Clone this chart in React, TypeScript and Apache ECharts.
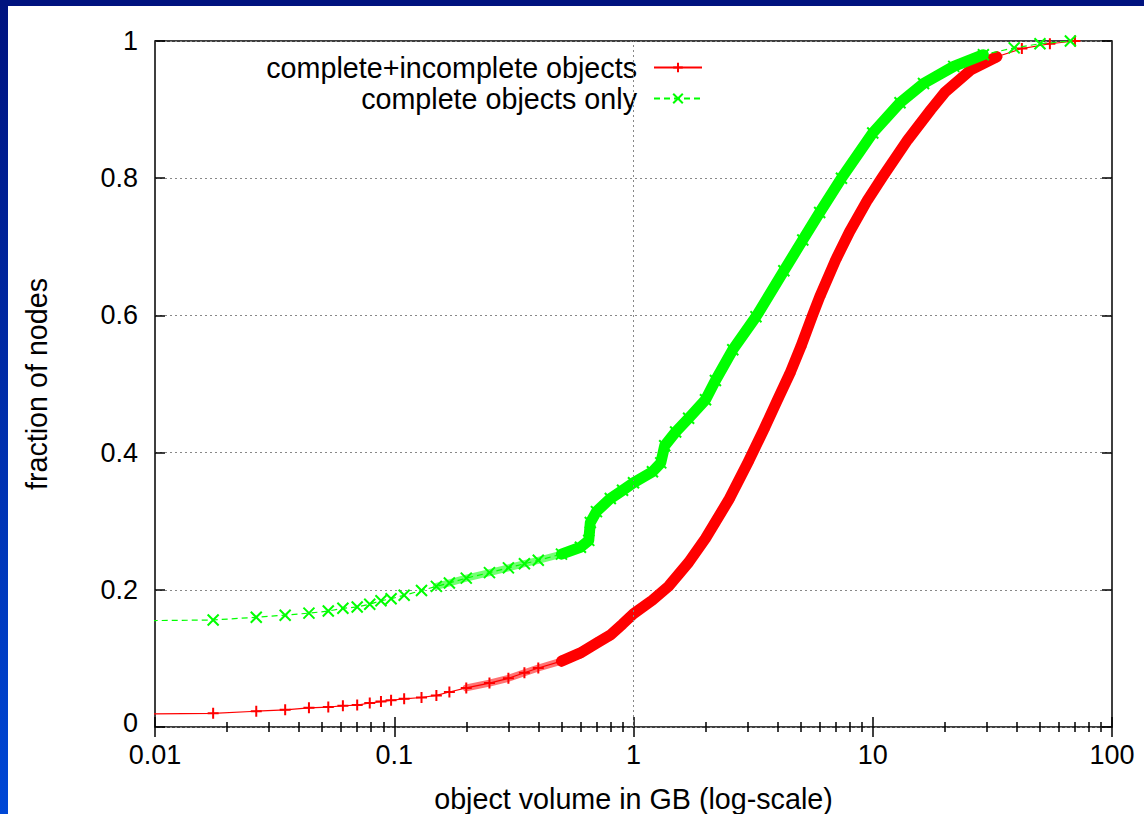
import React, { useEffect, useRef } from 'react';
import * as echarts from 'echarts';

// ---- data ----
const seriesNames = ['complete+incomplete objects', 'complete objects only'];
const xTickLabels = ['0.01', '0.1', '1', '10', '100'];
const yTickLabels = ['0', '0.2', '0.4', '0.6', '0.8', '1'];
const xAxisTitle = 'object volume in GB (log-scale)';
const yAxisTitle = 'fraction of nodes';

// complete+incomplete objects (red)
const allVolumeGB = [
  0.0088, 0.0175, 0.0265, 0.035, 0.044, 0.053, 0.061, 0.07, 0.079, 0.088, 0.097,
  0.11, 0.13, 0.15, 0.17, 0.2, 0.25, 0.3, 0.35, 0.4, 0.5, 0.6, 0.7, 0.8, 0.9,
  1.0, 1.2, 1.4, 1.7, 2.0, 2.5, 3.0, 3.5, 4.0, 4.5, 5.0, 5.6, 6.0, 7.0, 8.0,
  9.5, 11, 14, 17.5, 20, 25.7, 33, 42, 55, 70,
];
const allFraction = [
  0.019, 0.02, 0.023, 0.025, 0.028, 0.029, 0.031, 0.032, 0.035, 0.037, 0.039,
  0.041, 0.043, 0.046, 0.051, 0.057, 0.064, 0.071, 0.079, 0.086, 0.096, 0.108, 0.122, 0.134, 0.15,
  0.165, 0.185, 0.205, 0.24, 0.275, 0.331, 0.385, 0.433, 0.477, 0.515, 0.554, 0.6, 0.627, 0.681, 0.722,
  0.768, 0.802, 0.856, 0.9, 0.925, 0.958, 0.977, 0.989, 0.996, 1.0,
];

// complete objects only (green)
const completeVolumeGB = [
  0.0088, 0.0175, 0.0265, 0.035, 0.044, 0.053, 0.061, 0.07, 0.079, 0.088, 0.097,
  0.11, 0.13, 0.15, 0.17, 0.2, 0.25, 0.3, 0.35, 0.4, 0.5, 0.6, 0.65, 0.66, 0.7,
  0.8, 0.9, 1.0, 1.2, 1.3, 1.35, 1.5, 1.7, 2.0, 2.2, 2.6, 3.25, 4.25, 5.1, 6.0,
  7.4, 10.0, 13.0, 16.3, 21.8, 29, 39, 50, 67,
];
const completeFraction = [
  0.155, 0.156, 0.16, 0.163, 0.166, 0.169, 0.173, 0.175, 0.179, 0.184, 0.187,
  0.192, 0.199, 0.205, 0.21, 0.217, 0.225, 0.232, 0.238, 0.243, 0.252, 0.262, 0.272, 0.298, 0.314,
  0.333, 0.345, 0.356, 0.372, 0.385, 0.41, 0.43, 0.45, 0.477, 0.505, 0.55, 0.598, 0.665, 0.71, 0.75,
  0.8, 0.866, 0.91, 0.938, 0.963, 0.98, 0.99, 0.996, 1.0,
];

const RED = '#ff0000';
const GREEN = '#00ff00';
const FONT = 'Liberation Sans, Arial, Helvetica, sans-serif';
const PLUS = 'path://M5,0L5,10M0,5L10,5';
const CROSS = 'path://M0,0L10,10M0,10L10,0';

const pairs = (xs: number[], ys: number[]) => xs.map((x, i) => [x, ys[i]]);
const rangeOf = (xs: number[], ys: number[], lo: number, hi: number) =>
  pairs(xs, ys).filter((p) => p[0] >= lo && p[0] <= hi);

export default function App() {
  const ref = useRef<HTMLDivElement>(null);

  useEffect(() => {
    if (!ref.current) return;
    const chart = echarts.init(ref.current, undefined, { renderer: 'svg' });

    const tickLine = { show: true, inside: true, length: 10, lineStyle: { color: '#000', width: 1.5 } };
    const minorTick = { show: true, splitNumber: 9, length: 5, lineStyle: { color: '#000', width: 1.5 } };
    const gridLine = { color: '#888', width: 1, type: [2, 3] as number[] };

    const xBase = {
      type: 'log' as const,
      logBase: 10,
      min: 0.01,
      max: 100,
      axisLine: { show: false },
      axisTick: tickLine,
      minorTick,
      splitLine: { show: false },
    };
    const yBase = {
      type: 'value' as const,
      min: 0,
      max: 1,
      interval: 0.2,
      axisLine: { show: false },
      axisTick: tickLine,
    };
    const legendText = { fontSize: 28.7, color: '#000', fontFamily: FONT, padding: [0, 12, 0, 0] };

    chart.setOption({
      animation: false,
      backgroundColor: '#ffffff',
      textStyle: { fontFamily: FONT },
      graphic: [
        {
          type: 'rect',
          left: 0,
          top: 0,
          shape: { width: 8, height: 814 },
          style: {
            fill: new echarts.graphic.LinearGradient(0, 0, 0, 1, [
              { offset: 0, color: '#00137f' },
              { offset: 1, color: '#0048d6' },
            ]),
          },
          silent: true,
        },
        {
          type: 'rect',
          left: 0,
          top: 0,
          shape: { width: 1144, height: 6 },
          style: { fill: '#00137f' },
          silent: true,
        },
      ],
      grid: {
        left: 155,
        right: 32,
        top: 41,
        bottom: 87,
        show: true,
        borderColor: '#000',
        borderWidth: 1.5,
        backgroundColor: 'transparent',
        containLabel: false,
        outerBoundsMode: 'none',
      },
      legend: [
        {
          data: [seriesNames[0]],
          right: 441,
          top: 53,
          padding: 0,
          align: 'right',
          itemWidth: 48,
          itemHeight: 12,
          selectedMode: false,
          textStyle: legendText,
        },
        {
          data: [seriesNames[1]],
          right: 441,
          top: 84,
          padding: 0,
          align: 'right',
          itemWidth: 48,
          itemHeight: 12,
          selectedMode: false,
          textStyle: legendText,
        },
      ],
      xAxis: [
        {
          ...xBase,
          position: 'bottom',
          axisLabel: {
            color: '#000',
            fontSize: 27,
            fontFamily: FONT,
            margin: 14,
            formatter: (v: number) => xTickLabels[Math.round(Math.log10(v)) + 2],
          },
          name: xAxisTitle,
          nameLocation: 'middle',
          nameGap: 57,
          nameTextStyle: { fontSize: 28.7, color: '#000', fontFamily: FONT },
        },
        {
          ...xBase,
          position: 'top',
          axisLabel: { show: false },
        },
      ],
      yAxis: [
        {
          ...yBase,
          position: 'left',
          axisLabel: {
            color: '#000',
            fontSize: 27,
            fontFamily: FONT,
            margin: 17,
            formatter: (v: number) => {
              const i = Math.round(v / 0.2);
              return i === 0 ? '{zero|' + yTickLabels[0] + '}' : yTickLabels[i];
            },
            rich: {
              zero: { fontSize: 27, color: '#000', fontFamily: FONT, padding: [0, 0, 9, 0] },
            },
          },
          splitLine: { show: true, lineStyle: gridLine },
          name: yAxisTitle,
          nameLocation: 'middle',
          nameRotate: 90,
          nameGap: 104,
          nameTextStyle: { fontSize: 28.7, color: '#000', fontFamily: FONT },
        },
        {
          ...yBase,
          position: 'right',
          axisLabel: { show: false },
          splitLine: { show: false },
        },
      ],
      series: [
        {
          name: 'hatch-all',
          type: 'line',
          data: rangeOf(allVolumeGB, allFraction, 0.2, 0.6),
          showSymbol: false,
          silent: true,
          lineStyle: { color: RED, width: 7, opacity: 0.55, cap: 'round', join: 'round' },
          markLine: {
            silent: true,
            symbol: ['none', 'none'],
            label: { show: false },
            lineStyle: gridLine,
            data: [{ xAxis: 1 }],
          },
          z: 2,
        },
        {
          name: 'band-all',
          type: 'line',
          data: rangeOf(allVolumeGB, allFraction, 0.5, 35),
          showSymbol: false,
          silent: true,
          lineStyle: { color: RED, width: 11, cap: 'round', join: 'round' },
          z: 2,
        },
        {
          name: seriesNames[0],
          type: 'line',
          data: pairs(allVolumeGB, allFraction),
          symbol: PLUS,
          symbolSize: 11,
          showAllSymbol: true,
          lineStyle: { color: RED, width: 1.2 },
          itemStyle: { color: RED, borderColor: RED, borderWidth: 2 },
          z: 3,
        },
        {
          name: 'hatch-complete',
          type: 'line',
          data: rangeOf(completeVolumeGB, completeFraction, 0.15, 0.6),
          showSymbol: false,
          silent: true,
          lineStyle: { color: GREEN, width: 7, opacity: 0.55, cap: 'round', join: 'round' },
          z: 4,
        },
        {
          name: 'band-complete',
          type: 'line',
          data: rangeOf(completeVolumeGB, completeFraction, 0.5, 35),
          showSymbol: false,
          silent: true,
          lineStyle: { color: GREEN, width: 11, cap: 'round', join: 'round' },
          z: 4,
        },
        {
          name: seriesNames[1],
          type: 'line',
          data: pairs(completeVolumeGB, completeFraction),
          symbol: CROSS,
          symbolSize: 11,
          showAllSymbol: true,
          lineStyle: { color: GREEN, width: 1.2, type: [6, 4] },
          itemStyle: { color: GREEN, borderColor: GREEN, borderWidth: 2 },
          z: 5,
        },
      ],
    });

    return () => chart.dispose();
  }, []);

  return (
    <div
      ref={ref}
      style={{ position: 'fixed', left: 0, top: 0, width: 1144, height: 814, background: '#fff' }}
    />
  );
}
